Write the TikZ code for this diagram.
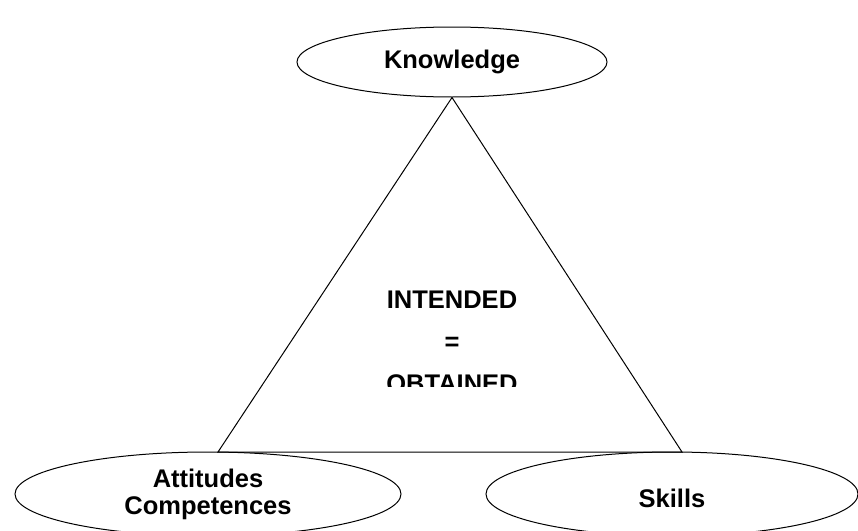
\documentclass[tikz,border=0pt]{standalone}
\usepackage{fontspec}
\setmainfont{Liberation Sans}
\usetikzlibrary{shapes.geometric}

\begin{document}
\begin{tikzpicture}[x=1pt,y=-1pt]

\def\fsize{25.5}
\def\rowsep{42}

\tikzset{
    topic/.style={
        draw,
        ellipse,
        line width=1pt,
        inner sep=0pt,
        font=\fontsize{\fsize}{27}\selectfont\bfseries,
        align=center
    },
    aim/.style={
        inner sep=0pt,
        font=\fontsize{\fsize}{\rowsep}\selectfont\bfseries,
        align=center
    }
}

% Page frame
\clip (0,0) rectangle (858,530);

% The three corners
\node[topic, minimum width=310pt, minimum height=70pt] (knowledge) at (452,62) {Knowledge};
\node[topic, minimum width=386pt, minimum height=84pt] (attitudes) at (208,494) {Attitudes\\Competences};
\node[topic, minimum width=372pt, minimum height=84pt, text height=26pt, text depth=0pt] (skills) at (672,494) {Skills};

% Triangle
\coordinate (baseL) at (218,452);
\coordinate (baseR) at (682,452);
\draw[line width=1pt] (knowledge.south) -- (baseR) -- (baseL) -- cycle;

% Text in the middle, cut off at the bottom
\begin{scope}
    \clip (320,260) rectangle (590,386);
    \node[aim] (goal) at (452,342) {INTENDED\\=\\OBTAINED};
\end{scope}

\end{tikzpicture}
\end{document}
